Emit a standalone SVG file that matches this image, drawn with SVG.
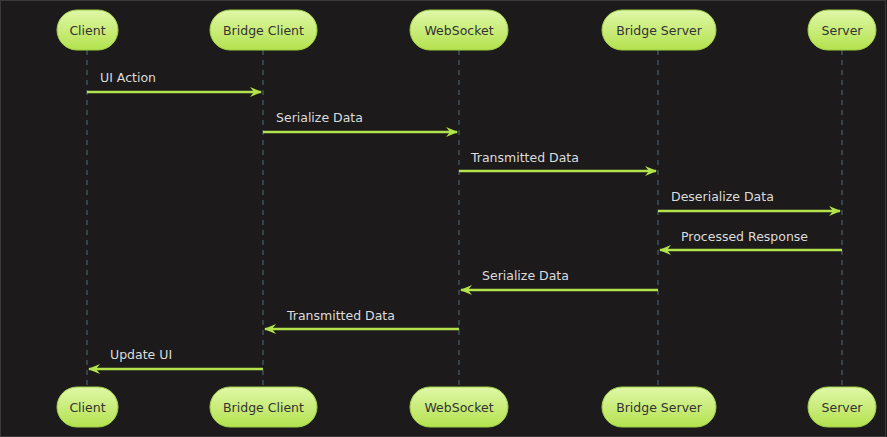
<svg xmlns="http://www.w3.org/2000/svg" width="887" height="437" viewBox="0 0 887 437">
<defs>
<linearGradient id="g" x1="0" y1="0" x2="0" y2="1">
<stop offset="0" stop-color="#e0f7a8"/>
<stop offset="1" stop-color="#b3e24e"/>
</linearGradient>
<marker id="ah" viewBox="0 0 12 10" refX="11" refY="5" markerWidth="12" markerHeight="10" markerUnits="userSpaceOnUse" orient="auto-start-reverse">
<path d="M0,0 L12,5 L0,10 L4,5 Z" fill="#b2e34a"/>
</marker>
<style>
.box{fill:url(#g);stroke:#9fcf45;stroke-width:1}
.bt{font-family:"DejaVu Sans",sans-serif;font-size:12.5px;fill:#333;text-anchor:middle}
.life{stroke:#4e6f7f;stroke-width:1;stroke-dasharray:5,5}
.msg{stroke:#b2e34a;stroke-width:2.5;fill:none}
.ml{font-family:"DejaVu Sans",sans-serif;font-size:12.5px;fill:#dcdcdc}
</style>
</defs>
<rect x="0" y="0" width="887" height="437" fill="#1c1a1b"/>
<rect x="0.5" y="0.5" width="885" height="436" fill="none" stroke="#3a3a3a" stroke-width="1"/>
<g id="lifelines">
<line class="life" x1="87" y1="50" x2="87" y2="387"/>
<line class="life" x1="263" y1="50" x2="263" y2="387"/>
<line class="life" x1="459" y1="50" x2="459" y2="387"/>
<line class="life" x1="658" y1="50" x2="658" y2="387"/>
<line class="life" x1="842" y1="50" x2="842" y2="387"/>
</g>
<g id="connectors">
<line class="msg" x1="87" y1="92" x2="261" y2="92" marker-end="url(#ah)"/>
<line class="msg" x1="263" y1="132" x2="457" y2="132" marker-end="url(#ah)"/>
<line class="msg" x1="459" y1="171" x2="656" y2="171" marker-end="url(#ah)"/>
<line class="msg" x1="658" y1="211" x2="840" y2="211" marker-end="url(#ah)"/>
<line class="msg" x1="842" y1="250" x2="660" y2="250" marker-end="url(#ah)"/>
<line class="msg" x1="658" y1="290" x2="461" y2="290" marker-end="url(#ah)"/>
<line class="msg" x1="459" y1="329" x2="265" y2="329" marker-end="url(#ah)"/>
<line class="msg" x1="263" y1="369" x2="89" y2="369" marker-end="url(#ah)"/>
<text class="ml" x="100" y="82">UI Action</text>
<text class="ml" x="276" y="122">Serialize Data</text>
<text class="ml" x="471" y="162">Transmitted Data</text>
<text class="ml" x="671" y="201">Deserialize Data</text>
<text class="ml" x="681" y="241">Processed Response</text>
<text class="ml" x="482" y="280">Serialize Data</text>
<text class="ml" x="287" y="320">Transmitted Data</text>
<text class="ml" x="110" y="359">Update UI</text>
</g>
<g id="client-top"><rect class="box" x="57" y="10" width="61" height="40" rx="20"/><text class="bt" x="87.5" y="34.5">Client</text></g>
<g id="bridgeclient-top"><rect class="box" x="210" y="10" width="107" height="40" rx="20"/><text class="bt" x="263.5" y="34.5">Bridge Client</text></g>
<g id="websocket-top"><rect class="box" x="410" y="10" width="98" height="40" rx="20"/><text class="bt" x="459" y="34.5">WebSocket</text></g>
<g id="bridgeserver-top"><rect class="box" x="602" y="10" width="114" height="40" rx="20"/><text class="bt" x="659" y="34.5">Bridge Server</text></g>
<g id="server-top"><rect class="box" x="808" y="10" width="68" height="40" rx="20"/><text class="bt" x="842" y="34.5">Server</text></g>
<g id="client-bottom"><rect class="box" x="57" y="387" width="61" height="40" rx="20"/><text class="bt" x="87.5" y="411.5">Client</text></g>
<g id="bridgeclient-bottom"><rect class="box" x="210" y="387" width="107" height="40" rx="20"/><text class="bt" x="263.5" y="411.5">Bridge Client</text></g>
<g id="websocket-bottom"><rect class="box" x="410" y="387" width="98" height="40" rx="20"/><text class="bt" x="459" y="411.5">WebSocket</text></g>
<g id="bridgeserver-bottom"><rect class="box" x="602" y="387" width="114" height="40" rx="20"/><text class="bt" x="659" y="411.5">Bridge Server</text></g>
<g id="server-bottom"><rect class="box" x="808" y="387" width="68" height="40" rx="20"/><text class="bt" x="842" y="411.5">Server</text></g>
</svg>
